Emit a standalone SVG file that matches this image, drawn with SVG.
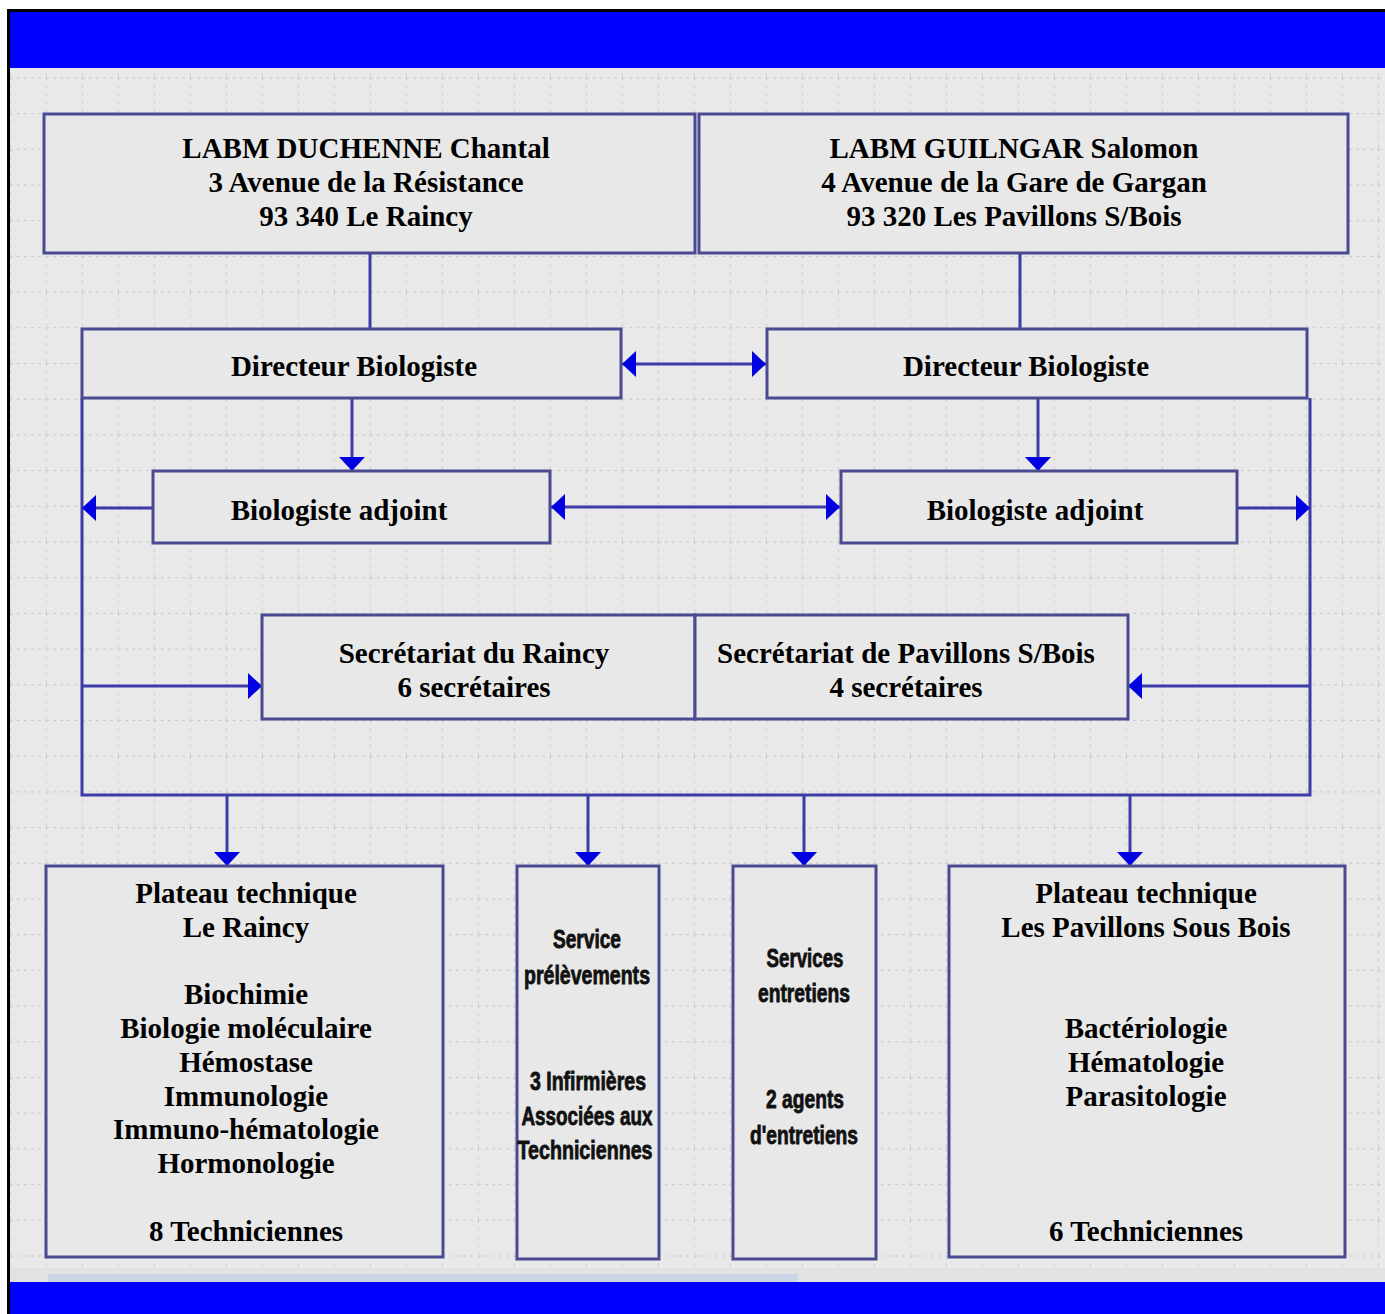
<svg xmlns="http://www.w3.org/2000/svg" width="1385" height="1314" viewBox="0 0 1385 1314">
<style>
.box{fill:#e8e8e8;stroke:#4a4a92;stroke-width:3}
.t{font-family:"Liberation Serif","Times New Roman",serif;font-weight:bold;font-size:29px;fill:#000;text-anchor:middle}
.n{font-family:"Liberation Sans Narrow","Liberation Sans",Arial,sans-serif;font-weight:bold;font-size:25px;fill:#111;stroke:#111;stroke-width:0.8;text-anchor:middle}
.c{fill:none;stroke:#3c3ca8;stroke-width:3}
.a{marker-end:url(#ah)}
.d{marker-start:url(#ah);marker-end:url(#ah)}
</style>
<defs>
<pattern id="grid" patternUnits="userSpaceOnUse" x="10" y="6" width="36" height="35.7">
<path d="M0,0.5H36" stroke="#c9c9c9" stroke-width="1" stroke-dasharray="3,4" fill="none"/>
<path d="M0.5,0V35.7" stroke="#cfcfcf" stroke-width="1" stroke-dasharray="3,5" fill="none"/>
</pattern>
<marker id="ah" markerUnits="userSpaceOnUse" markerWidth="14" markerHeight="26" refX="14" refY="13" orient="auto-start-reverse" viewBox="0 0 14 26">
<path d="M0,0 L14,13 L0,26 z" fill="#0000e0"/>
</marker>
</defs>

<rect x="0" y="0" width="1385" height="1314" fill="#ffffff"/>
<rect x="9" y="68" width="1376" height="1214" fill="#e9e9e9"/>
<rect x="9" y="68" width="1376" height="1200" fill="url(#grid)"/>
<rect x="9" y="1268" width="1376" height="14" fill="#e2e2e0"/>
<rect x="48" y="1274" width="750" height="8" fill="#cdd6e6"/>
<rect x="9" y="12" width="1376" height="56" fill="#0000ff"/>
<rect x="9" y="1282" width="1376" height="32" fill="#0000ff"/>
<path d="M7,10.5H1385M8.5,10V1314" stroke="#000" stroke-width="3" fill="none"/>

<g id="connectors">
<path class="c" d="M370,253V329"/>
<path class="c" d="M1020,253V329"/>
<path class="c d" d="M622,364H766"/>
<path class="c a" d="M352,398V471"/>
<path class="c a" d="M1038,398V471"/>
<path class="c d" d="M551,507H840"/>
<path class="c" d="M82,398V795H1310V398"/>
<path class="c a" d="M153,508H82"/>
<path class="c a" d="M1237,508H1310"/>
<path class="c a" d="M82,686H262"/>
<path class="c a" d="M1310,686H1128"/>
<path class="c a" d="M227,795V866"/>
<path class="c a" d="M588,795V866"/>
<path class="c a" d="M804,795V866"/>
<path class="c a" d="M1130,795V866"/>
</g>

<g id="labm-duchenne">
<rect class="box" x="44" y="114" width="651" height="139"/>
<text class="t" x="366" y="158">LABM DUCHENNE Chantal</text>
<text class="t" x="366" y="192">3 Avenue de la Résistance</text>
<text class="t" x="366" y="226">93 340 Le Raincy</text>
</g>
<g id="labm-guilngar">
<rect class="box" x="699" y="114" width="649" height="139"/>
<text class="t" x="1014" y="158">LABM GUILNGAR Salomon</text>
<text class="t" x="1014" y="192">4 Avenue de la Gare de Gargan</text>
<text class="t" x="1014" y="226">93 320 Les Pavillons S/Bois</text>
</g>
<g id="directeur-left">
<rect class="box" x="82" y="329" width="539" height="69"/>
<text class="t" x="354" y="376">Directeur Biologiste</text>
</g>
<g id="directeur-right">
<rect class="box" x="767" y="329" width="540" height="69"/>
<text class="t" x="1026" y="376">Directeur Biologiste</text>
</g>
<g id="adjoint-left">
<rect class="box" x="153" y="471" width="397" height="72"/>
<text class="t" x="339" y="520">Biologiste adjoint</text>
</g>
<g id="adjoint-right">
<rect class="box" x="841" y="471" width="396" height="72"/>
<text class="t" x="1035" y="520">Biologiste adjoint</text>
</g>
<g id="secretariat-raincy">
<rect class="box" x="262" y="615" width="433" height="104"/>
<text class="t" x="474" y="663">Secrétariat du Raincy</text>
<text class="t" x="474" y="697">6 secrétaires</text>
</g>
<g id="secretariat-pavillons">
<rect class="box" x="695" y="615" width="433" height="104"/>
<text class="t" x="906" y="663">Secrétariat de Pavillons S/Bois</text>
<text class="t" x="906" y="697">4 secrétaires</text>
</g>
<g id="plateau-raincy">
<rect class="box" x="46" y="866" width="397" height="391"/>
<text class="t" x="246" y="903">Plateau technique</text>
<text class="t" x="246" y="937">Le Raincy</text>
<text class="t" x="246" y="1004">Biochimie</text>
<text class="t" x="246" y="1038">Biologie moléculaire</text>
<text class="t" x="246" y="1072">Hémostase</text>
<text class="t" x="246" y="1106">Immunologie</text>
<text class="t" x="246" y="1139">Immuno-hématologie</text>
<text class="t" x="246" y="1173">Hormonologie</text>
<text class="t" x="246" y="1241">8 Techniciennes</text>
</g>
<g id="service-prelevements">
<rect class="box" x="517" y="866" width="142" height="393"/>
<text class="n" x="587" y="948" textLength="68" lengthAdjust="spacingAndGlyphs">Service</text>
<text class="n" x="587" y="984" textLength="126" lengthAdjust="spacingAndGlyphs">prélèvements</text>
<text class="n" x="588" y="1090" textLength="116" lengthAdjust="spacingAndGlyphs">3 Infirmières</text>
<text class="n" x="587" y="1125" textLength="131" lengthAdjust="spacingAndGlyphs">Associées aux</text>
<text class="n" x="585" y="1159" textLength="135" lengthAdjust="spacingAndGlyphs">Techniciennes</text>
</g>
<g id="services-entretiens">
<rect class="box" x="733" y="866" width="143" height="393"/>
<text class="n" x="805" y="967" textLength="77" lengthAdjust="spacingAndGlyphs">Services</text>
<text class="n" x="804" y="1002" textLength="92" lengthAdjust="spacingAndGlyphs">entretiens</text>
<text class="n" x="805" y="1108" textLength="78" lengthAdjust="spacingAndGlyphs">2 agents</text>
<text class="n" x="804" y="1144" textLength="108" lengthAdjust="spacingAndGlyphs">d'entretiens</text>
</g>
<g id="plateau-pavillons">
<rect class="box" x="949" y="866" width="396" height="391"/>
<text class="t" x="1146" y="903">Plateau technique</text>
<text class="t" x="1146" y="937">Les Pavillons Sous Bois</text>
<text class="t" x="1146" y="1038">Bactériologie</text>
<text class="t" x="1146" y="1072">Hématologie</text>
<text class="t" x="1146" y="1106">Parasitologie</text>
<text class="t" x="1146" y="1241">6 Techniciennes</text>
</g>
</svg>
